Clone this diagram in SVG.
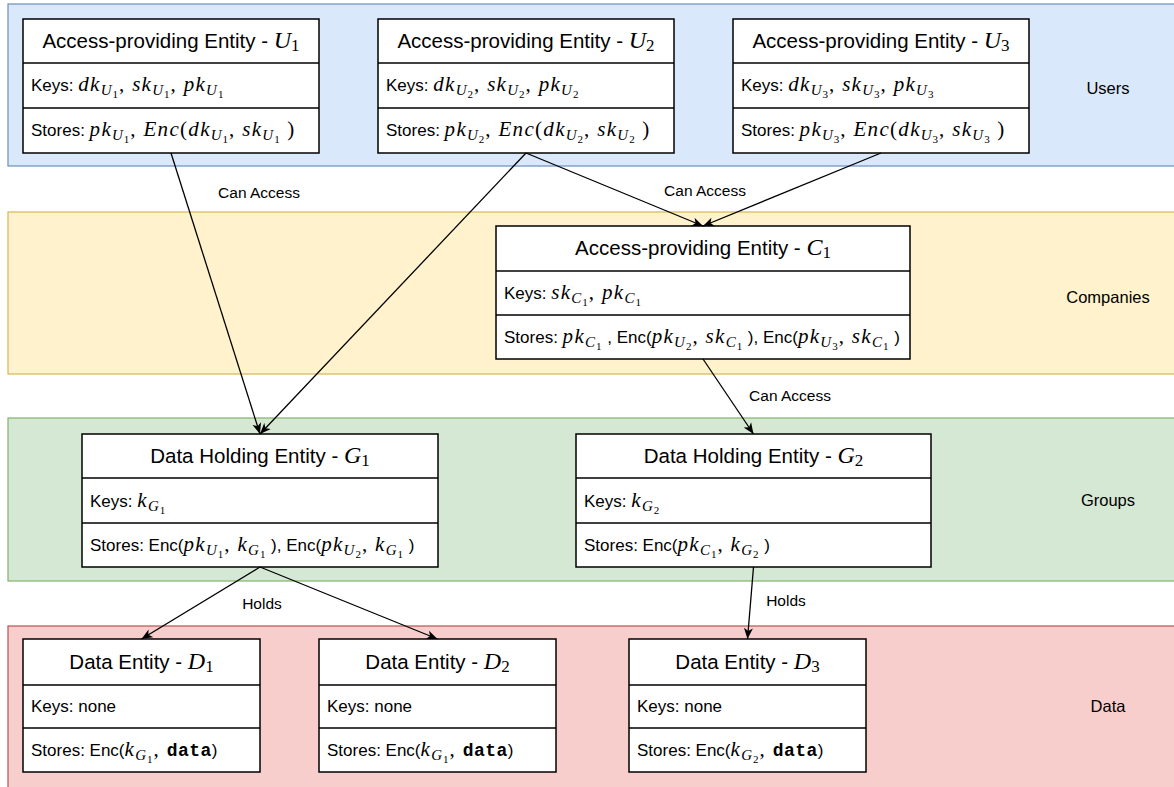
<svg xmlns="http://www.w3.org/2000/svg" width="1174" height="787" viewBox="0 0 1174 787">
<style>
.lane{stroke-width:1.2}
.box{fill:#fff;stroke:#000;stroke-width:1.5}
.div{stroke:#000;stroke-width:1.5}
.tt{font-family:"Liberation Sans",Arial,sans-serif;font-size:20.5px;fill:#000;text-anchor:middle}
.t{font-family:"Liberation Sans",Arial,sans-serif;font-size:17px;fill:#000}
.lab{font-family:"Liberation Sans",Arial,sans-serif;font-size:15.5px;fill:#000;text-anchor:middle}
.ll{font-family:"Liberation Sans",Arial,sans-serif;font-size:16.5px;fill:#000;text-anchor:middle}
.m{font-family:"Liberation Serif","DejaVu Serif",serif;font-style:italic;font-size:21px;letter-spacing:1.3px}
.mr{font-family:"Liberation Serif","DejaVu Serif",serif;font-style:normal;font-size:21px;letter-spacing:1.3px}
.s{font-family:"Liberation Serif","DejaVu Serif",serif;font-style:italic;font-size:15px;letter-spacing:1px}
.ss{font-family:"Liberation Serif","DejaVu Serif",serif;font-style:normal;font-size:11px;letter-spacing:1px}
.mt{font-family:"Liberation Serif","DejaVu Serif",serif;font-style:italic;font-size:24px}
.mts{font-family:"Liberation Serif","DejaVu Serif",serif;font-style:normal;font-size:17px}
.mono{font-family:"Liberation Mono","DejaVu Sans Mono",monospace;font-weight:bold;font-size:18px;letter-spacing:0.5px}
.edge{stroke:#000;stroke-width:1.3;fill:none;marker-end:url(#arr)}
</style>
<defs>
<marker id="arr" markerUnits="userSpaceOnUse" markerWidth="12" markerHeight="10" refX="11" refY="5" orient="auto">
<path d="M0,0.5 L11,5 L0,9.5 L3,5 Z" fill="#000"/>
</marker>
</defs>

<g id="lanes">
<g id="lane-users"><rect class="lane" x="8" y="4" width="1172" height="162" fill="#dae8fc" stroke="#6c8ebf"/><text class="ll" x="1108" y="94">Users</text></g>
<g id="lane-companies"><rect class="lane" x="8" y="212" width="1172" height="162" fill="#fff2cc" stroke="#d6b656"/><text class="ll" x="1108" y="303">Companies</text></g>
<g id="lane-groups"><rect class="lane" x="8" y="418" width="1172" height="163" fill="#d5e8d4" stroke="#82b366"/><text class="ll" x="1108" y="506">Groups</text></g>
<g id="lane-data"><rect class="lane" x="8" y="626" width="1172" height="170" fill="#f8cecc" stroke="#b85450"/><text class="ll" x="1108" y="712">Data</text></g>
</g>

<g id="U1">
<rect class="box" x="23" y="19" width="296" height="134"/>
<line class="div" x1="23" y1="63" x2="319" y2="63"/><line class="div" x1="23" y1="108" x2="319" y2="108"/>
<text class="tt" x="171" y="48">Access-providing Entity - <tspan class="mt">U</tspan><tspan class="mts" dy="3">1</tspan></text>
<text class="t" x="31" y="91">Keys: <tspan class="m">dk</tspan><tspan class="s" dy="4">U</tspan><tspan class="ss" dy="2.5">1</tspan><tspan class="mr" dy="-6.5">, </tspan><tspan class="m">sk</tspan><tspan class="s" dy="4">U</tspan><tspan class="ss" dy="2.5">1</tspan><tspan class="mr" dy="-6.5">, </tspan><tspan class="m">pk</tspan><tspan class="s" dy="4">U</tspan><tspan class="ss" dy="2.5">1</tspan></text>
<text class="t" x="31" y="136">Stores: <tspan class="m">pk</tspan><tspan class="s" dy="4">U</tspan><tspan class="ss" dy="2.5">1</tspan><tspan class="mr" dy="-6.5">, </tspan><tspan class="m">Enc</tspan><tspan class="mr">(</tspan><tspan class="m">dk</tspan><tspan class="s" dy="4">U</tspan><tspan class="ss" dy="2.5">1</tspan><tspan class="mr" dy="-6.5">, </tspan><tspan class="m">sk</tspan><tspan class="s" dy="4">U</tspan><tspan class="ss" dy="2.5">1</tspan><tspan class="mr" dy="-6.5"> )</tspan></text>
</g>

<g id="U2">
<rect class="box" x="378" y="19" width="296" height="134"/>
<line class="div" x1="378" y1="63" x2="674" y2="63"/><line class="div" x1="378" y1="108" x2="674" y2="108"/>
<text class="tt" x="526" y="48">Access-providing Entity - <tspan class="mt">U</tspan><tspan class="mts" dy="3">2</tspan></text>
<text class="t" x="386" y="91">Keys: <tspan class="m">dk</tspan><tspan class="s" dy="4">U</tspan><tspan class="ss" dy="2.5">2</tspan><tspan class="mr" dy="-6.5">, </tspan><tspan class="m">sk</tspan><tspan class="s" dy="4">U</tspan><tspan class="ss" dy="2.5">2</tspan><tspan class="mr" dy="-6.5">, </tspan><tspan class="m">pk</tspan><tspan class="s" dy="4">U</tspan><tspan class="ss" dy="2.5">2</tspan></text>
<text class="t" x="386" y="136">Stores: <tspan class="m">pk</tspan><tspan class="s" dy="4">U</tspan><tspan class="ss" dy="2.5">2</tspan><tspan class="mr" dy="-6.5">, </tspan><tspan class="m">Enc</tspan><tspan class="mr">(</tspan><tspan class="m">dk</tspan><tspan class="s" dy="4">U</tspan><tspan class="ss" dy="2.5">2</tspan><tspan class="mr" dy="-6.5">, </tspan><tspan class="m">sk</tspan><tspan class="s" dy="4">U</tspan><tspan class="ss" dy="2.5">2</tspan><tspan class="mr" dy="-6.5"> )</tspan></text>
</g>

<g id="U3">
<rect class="box" x="733" y="19" width="296" height="134"/>
<line class="div" x1="733" y1="63" x2="1029" y2="63"/><line class="div" x1="733" y1="108" x2="1029" y2="108"/>
<text class="tt" x="881" y="48">Access-providing Entity - <tspan class="mt">U</tspan><tspan class="mts" dy="3">3</tspan></text>
<text class="t" x="741" y="91">Keys: <tspan class="m">dk</tspan><tspan class="s" dy="4">U</tspan><tspan class="ss" dy="2.5">3</tspan><tspan class="mr" dy="-6.5">, </tspan><tspan class="m">sk</tspan><tspan class="s" dy="4">U</tspan><tspan class="ss" dy="2.5">3</tspan><tspan class="mr" dy="-6.5">, </tspan><tspan class="m">pk</tspan><tspan class="s" dy="4">U</tspan><tspan class="ss" dy="2.5">3</tspan></text>
<text class="t" x="741" y="136">Stores: <tspan class="m">pk</tspan><tspan class="s" dy="4">U</tspan><tspan class="ss" dy="2.5">3</tspan><tspan class="mr" dy="-6.5">, </tspan><tspan class="m">Enc</tspan><tspan class="mr">(</tspan><tspan class="m">dk</tspan><tspan class="s" dy="4">U</tspan><tspan class="ss" dy="2.5">3</tspan><tspan class="mr" dy="-6.5">, </tspan><tspan class="m">sk</tspan><tspan class="s" dy="4">U</tspan><tspan class="ss" dy="2.5">3</tspan><tspan class="mr" dy="-6.5"> )</tspan></text>
</g>

<g id="C1">
<rect class="box" x="496" y="226" width="414" height="133"/>
<line class="div" x1="496" y1="271" x2="910" y2="271"/><line class="div" x1="496" y1="315" x2="910" y2="315"/>
<text class="tt" x="703" y="255">Access-providing Entity - <tspan class="mt">C</tspan><tspan class="mts" dy="3">1</tspan></text>
<text class="t" x="504" y="299">Keys: <tspan class="m">sk</tspan><tspan class="s" dy="4">C</tspan><tspan class="ss" dy="2.5">1</tspan><tspan class="mr" dy="-6.5">, </tspan><tspan class="m">pk</tspan><tspan class="s" dy="4">C</tspan><tspan class="ss" dy="2.5">1</tspan></text>
<text class="t" x="504" y="343">Stores: <tspan class="m">pk</tspan><tspan class="s" dy="4">C</tspan><tspan class="ss" dy="2.5">1</tspan><tspan dy="-6.5"> , Enc(</tspan><tspan class="m">pk</tspan><tspan class="s" dy="4">U</tspan><tspan class="ss" dy="2.5">2</tspan><tspan class="mr" dy="-6.5">, </tspan><tspan class="m">sk</tspan><tspan class="s" dy="4">C</tspan><tspan class="ss" dy="2.5">1</tspan><tspan dy="-6.5"> ), Enc(</tspan><tspan class="m">pk</tspan><tspan class="s" dy="4">U</tspan><tspan class="ss" dy="2.5">3</tspan><tspan class="mr" dy="-6.5">, </tspan><tspan class="m">sk</tspan><tspan class="s" dy="4">C</tspan><tspan class="ss" dy="2.5">1</tspan><tspan dy="-6.5"> )</tspan></text>
</g>

<g id="G1">
<rect class="box" x="82" y="434" width="356" height="133"/>
<line class="div" x1="82" y1="478" x2="438" y2="478"/><line class="div" x1="82" y1="523" x2="438" y2="523"/>
<text class="tt" x="260" y="463">Data Holding Entity - <tspan class="mt">G</tspan><tspan class="mts" dy="3">1</tspan></text>
<text class="t" x="90" y="507">Keys: <tspan class="m">k</tspan><tspan class="s" dy="4">G</tspan><tspan class="ss" dy="2.5">1</tspan></text>
<text class="t" x="90" y="551">Stores: Enc(<tspan class="m">pk</tspan><tspan class="s" dy="4">U</tspan><tspan class="ss" dy="2.5">1</tspan><tspan class="mr" dy="-6.5">, </tspan><tspan class="m">k</tspan><tspan class="s" dy="4">G</tspan><tspan class="ss" dy="2.5">1</tspan><tspan dy="-6.5"> ), Enc(</tspan><tspan class="m">pk</tspan><tspan class="s" dy="4">U</tspan><tspan class="ss" dy="2.5">2</tspan><tspan class="mr" dy="-6.5">, </tspan><tspan class="m">k</tspan><tspan class="s" dy="4">G</tspan><tspan class="ss" dy="2.5">1</tspan><tspan dy="-6.5"> )</tspan></text>
</g>

<g id="G2">
<rect class="box" x="576" y="434" width="355" height="133"/>
<line class="div" x1="576" y1="478" x2="931" y2="478"/><line class="div" x1="576" y1="523" x2="931" y2="523"/>
<text class="tt" x="753.5" y="463">Data Holding Entity - <tspan class="mt">G</tspan><tspan class="mts" dy="3">2</tspan></text>
<text class="t" x="584" y="507">Keys: <tspan class="m">k</tspan><tspan class="s" dy="4">G</tspan><tspan class="ss" dy="2.5">2</tspan></text>
<text class="t" x="584" y="551">Stores: Enc(<tspan class="m">pk</tspan><tspan class="s" dy="4">C</tspan><tspan class="ss" dy="2.5">1</tspan><tspan class="mr" dy="-6.5">, </tspan><tspan class="m">k</tspan><tspan class="s" dy="4">G</tspan><tspan class="ss" dy="2.5">2</tspan><tspan dy="-6.5"> )</tspan></text>
</g>

<g id="D1">
<rect class="box" x="23" y="639" width="237" height="133"/>
<line class="div" x1="23" y1="685" x2="260" y2="685"/><line class="div" x1="23" y1="728" x2="260" y2="728"/>
<text class="tt" x="141.5" y="669">Data Entity - <tspan class="mt">D</tspan><tspan class="mts" dy="3">1</tspan></text>
<text class="t" x="31" y="712">Keys: none</text>
<text class="t" x="31" y="756">Stores: Enc(<tspan class="m">k</tspan><tspan class="s" dy="4">G</tspan><tspan class="ss" dy="2.5">1</tspan><tspan class="mr" dy="-6.5">, </tspan><tspan class="mono">data</tspan>)</text>
</g>

<g id="D2">
<rect class="box" x="319" y="639" width="237" height="133"/>
<line class="div" x1="319" y1="685" x2="556" y2="685"/><line class="div" x1="319" y1="728" x2="556" y2="728"/>
<text class="tt" x="437.5" y="669">Data Entity - <tspan class="mt">D</tspan><tspan class="mts" dy="3">2</tspan></text>
<text class="t" x="327" y="712">Keys: none</text>
<text class="t" x="327" y="756">Stores: Enc(<tspan class="m">k</tspan><tspan class="s" dy="4">G</tspan><tspan class="ss" dy="2.5">1</tspan><tspan class="mr" dy="-6.5">, </tspan><tspan class="mono">data</tspan>)</text>
</g>

<g id="D3">
<rect class="box" x="629" y="639" width="237" height="133"/>
<line class="div" x1="629" y1="685" x2="866" y2="685"/><line class="div" x1="629" y1="728" x2="866" y2="728"/>
<text class="tt" x="747.5" y="669">Data Entity - <tspan class="mt">D</tspan><tspan class="mts" dy="3">3</tspan></text>
<text class="t" x="637" y="712">Keys: none</text>
<text class="t" x="637" y="756">Stores: Enc(<tspan class="m">k</tspan><tspan class="s" dy="4">G</tspan><tspan class="ss" dy="2.5">2</tspan><tspan class="mr" dy="-6.5">, </tspan><tspan class="mono">data</tspan>)</text>
</g>

<g id="connectors">
<line class="edge" x1="171" y1="153" x2="260" y2="434"/>
<line class="edge" x1="526" y1="153" x2="260" y2="434"/>
<line class="edge" x1="526" y1="153" x2="703" y2="226"/>
<line class="edge" x1="881" y1="153" x2="703" y2="226"/>
<line class="edge" x1="703" y1="359" x2="753.5" y2="434"/>
<line class="edge" x1="260" y1="567" x2="141.5" y2="639"/>
<line class="edge" x1="260" y1="567" x2="437.5" y2="639"/>
<line class="edge" x1="753.5" y1="567" x2="747.5" y2="639"/>
<text class="lab" x="259" y="198">Can Access</text>
<text class="lab" x="705" y="196">Can Access</text>
<text class="lab" x="790" y="401">Can Access</text>
<text class="lab" x="262" y="609">Holds</text>
<text class="lab" x="786" y="606">Holds</text>
</g>
</svg>
